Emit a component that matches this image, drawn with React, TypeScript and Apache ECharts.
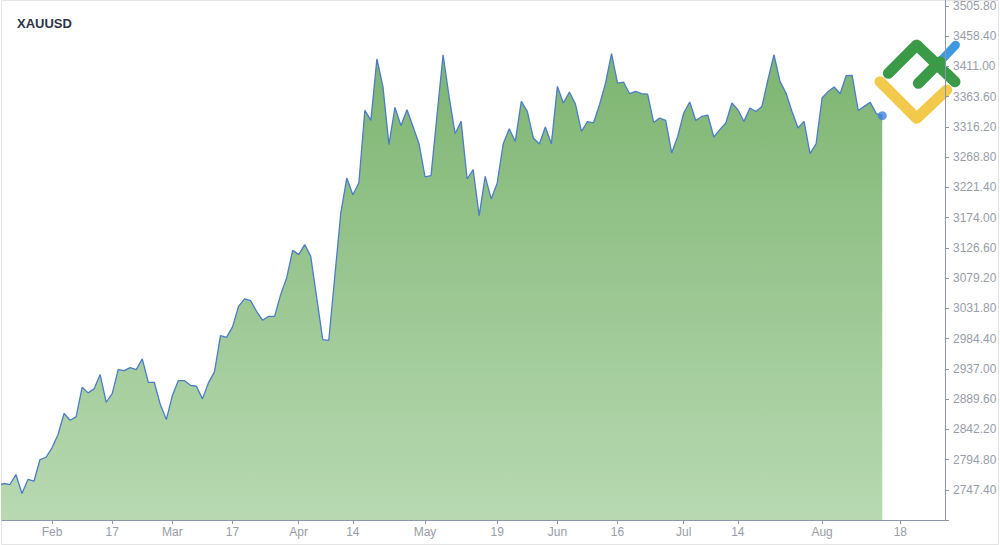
import React, { useEffect, useRef } from "react";
import * as echarts from "echarts";

// Trading-day index (0 = Jan 21, 2025) -> daily close of XAUUSD
const closes: number[] = [
  2754.1, 2757.2, 2755.6, 2771.3, 2741.5, 2763.5, 2760.8, 2794.8, 2798.4, 2813.1,
  2834.0, 2866.9, 2856.4, 2861.7, 2908.1, 2899.3, 2905.6, 2928.0, 2884.6, 2898.2,
  2935.8, 2934.3, 2939.0, 2935.8, 2952.6, 2915.9, 2915.9, 2881.0, 2857.5, 2895.1,
  2918.6, 2918.6, 2911.2, 2909.7, 2889.9, 2915.0, 2932.2, 2989.1, 2986.4, 3002.7,
  3035.0, 3046.6, 3043.9, 3027.2, 3013.1, 3019.3, 3019.3, 3053.3, 3079.5, 3122.7,
  3116.0, 3131.7, 3113.4, 3048.2, 2982.8, 2981.7, 3081.5, 3181.4, 3236.2, 3210.0,
  3228.4, 3342.1, 3326.4, 3422.7, 3379.7, 3288.4, 3346.8, 3318.1, 3343.2, 3317.0,
  3289.9, 3237.8, 3239.8, 3335.4, 3429.4, 3363.6, 3305.6, 3324.9, 3234.6, 3249.2,
  3177.1, 3238.7, 3203.3, 3228.4, 3289.9, 3313.4, 3293.5, 3356.2, 3340.5, 3298.9,
  3289.5, 3316.1, 3289.9, 3379.7, 3353.7, 3370.9, 3352.1, 3309.2, 3324.4, 3322.4,
  3351.0, 3385.0, 3431.0, 3385.0, 3386.6, 3368.3, 3371.9, 3368.3, 3367.8, 3323.3,
  3330.2, 3326.4, 3275.4, 3301.4, 3338.0, 3355.3, 3326.4, 3332.7, 3334.9, 3300.4,
  3311.9, 3322.4, 3353.7, 3343.2, 3324.9, 3345.9, 3340.5, 3348.4, 3390.2, 3429.4,
  3387.6, 3369.4, 3340.5, 3314.5, 3324.9, 3274.3, 3289.9, 3361.5, 3371.9, 3378.8,
  3368.3, 3396.5, 3397.0, 3342.1, 3348.4, 3354.7, 3337.0, 3333.8,
];

// x-axis tick positions (trading-day index) and their labels
const xTickIndex: number[] = [9, 19, 29, 39, 50, 59, 71, 83, 93, 103, 114, 123, 137, 150];
const xTickLabels: string[] = ["Feb", "17", "Mar", "17", "Apr", "14", "May", "19", "Jun", "16", "Jul", "14", "Aug", "18"];

// y-axis tick values
const yTicks: number[] = [
  2747.4, 2794.8, 2842.2, 2889.6, 2937.0, 2984.4, 3031.8, 3079.2, 3126.6,
  3174.0, 3221.4, 3268.8, 3316.2, 3363.6, 3411.0, 3458.4, 3505.8,
];
const yMin = 2700;
const yMax = 3505.8;
const xMin = 0.684;
const xMax = 157.43;

const FONT = "'Liberation Sans', Arial, sans-serif";
const AXIS_COLOR = "#8d97ab";
const LABEL_COLOR = "#989da8";

export default function App() {
  const ref = useRef<HTMLDivElement>(null);

  useEffect(() => {
    if (!ref.current) return;
    const chart = echarts.init(ref.current, null, { renderer: "svg" });
    const seriesData = closes.map((v, i) => [i, v]);
    const last = seriesData[seriesData.length - 1];

    chart.setOption({
      animation: false,
      title: {
        text: "XAUUSD",
        left: 12,
        top: 12,
        textStyle: { fontSize: 13, fontWeight: "bold", color: "#2e3447", fontFamily: FONT },
      },
      grid: { left: 2, right: 55, top: 6, bottom: 25 },
      xAxis: {
        type: "value",
        min: xMin,
        max: xMax,
        axisLine: { show: true, lineStyle: { color: AXIS_COLOR, width: 1 } },
        axisTick: { show: true, length: 4, lineStyle: { color: AXIS_COLOR }, customValues: xTickIndex },
        axisLabel: {
          customValues: xTickIndex,
          color: LABEL_COLOR,
          fontSize: 12,
          fontFamily: FONT,
          margin: 6,
          formatter: (v: number) => {
            const k = xTickIndex.indexOf(Math.round(v));
            return k >= 0 ? xTickLabels[k] : "";
          },
        },
        splitLine: { show: false },
      },
      yAxis: {
        type: "value",
        position: "right",
        min: yMin,
        max: yMax,
        axisLine: { show: true, lineStyle: { color: AXIS_COLOR, width: 1 } },
        axisTick: { show: true, length: 4, lineStyle: { color: AXIS_COLOR }, customValues: [yMin, ...yTicks] },
        axisLabel: {
          customValues: yTicks,
          color: LABEL_COLOR,
          fontSize: 12,
          fontFamily: FONT,
          margin: 8,
          formatter: (v: number) => v.toFixed(2),
        },
        splitLine: { show: false },
      },
      series: [
        {
          type: "line",
          data: seriesData,
          showSymbol: false,
          clip: true,
          lineStyle: { color: "#4c7cc7", width: 1.3 },
          areaStyle: {
            color: new echarts.graphic.LinearGradient(0, 0, 0, 1, [
              { offset: 0, color: "#7db571" },
              { offset: 1, color: "#b8d9b2" },
            ]),
            opacity: 1,
          },
          z: 2,
        },
        {
          type: "scatter",
          data: [last],
          symbol: "circle",
          symbolSize: 9,
          itemStyle: { color: "#3d7fe0" },
          z: 3,
        },
      ],
      graphic: [
        {
          type: "rect",
          shape: { x: 1.5, y: 0.5, width: 997, height: 544 },
          style: { fill: "none", stroke: "#e4e4e4", lineWidth: 1 },
          silent: true,
        },
        {
          type: "line",
          shape: { x1: 945.5, y1: 0, x2: 945.5, y2: 6 },
          style: { stroke: AXIS_COLOR, lineWidth: 1 },
          silent: true,
        },
        {
          type: "group",
          z: 100,
          children: [
            {
              type: "polyline",
              shape: { points: [[880, 81.7], [916.7, 118.3], [946.7, 90]] },
              style: { fill: "none", stroke: "#f2c94a", lineWidth: 11, lineCap: "round", lineJoin: "round" },
            },
            {
              type: "line",
              shape: { x1: 940, y1: 61.7, x2: 955.7, y2: 45 },
              style: { stroke: "#3f99de", lineWidth: 8.5, lineCap: "round" },
            },
            {
              type: "polyline",
              shape: { points: [[888.3, 73.3], [916.7, 45], [955, 81.7]] },
              style: { fill: "none", stroke: "#3a9a47", lineWidth: 11, lineCap: "round", lineJoin: "round" },
            },
            {
              type: "line",
              shape: { x1: 918.3, y1: 83.3, x2: 940, y2: 61.7 },
              style: { stroke: "#3a9a47", lineWidth: 11, lineCap: "round" },
            },
          ],
        },
      ],
    });

    return () => chart.dispose();
  }, []);

  return (
    <div
      ref={ref}
      style={{ position: "absolute", left: 0, top: 0, width: 1000, height: 545, background: "#ffffff" }}
    />
  );
}
